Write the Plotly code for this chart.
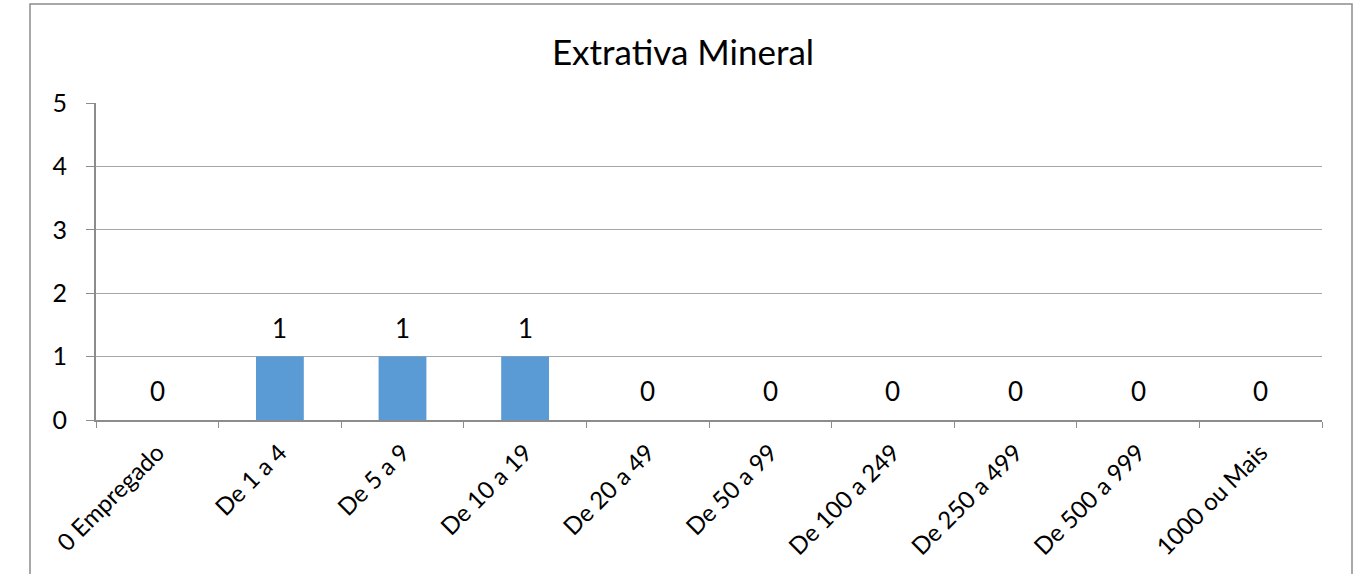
import plotly.graph_objects as go

categories = ["0 Empregado", "De 1 a 4", "De 5 a 9", "De 10 a 19", "De 20 a 49",
              "De 50 a 99", "De 100 a 249", "De 250 a 499", "De 500 a 999", "1000 ou Mais"]
values = [0, 1, 1, 1, 0, 0, 0, 0, 0, 0]
title_text = "Extrativa Mineral"
y_ticks = [0, 1, 2, 3, 4, 5]

W, H = 1364, 574
L, T = 96, 103
R = W - 1322
B = H - 420
pw, ph = W - L - R, H - T - B

fig = go.Figure(go.Bar(
    x=categories, y=values,
    marker=dict(color="#5B9BD5", line=dict(width=0)),
    cliponaxis=False,
    hoverinfo="x+y",
))

for c, v in zip(categories, values):
    fig.add_annotation(x=c, y=v, xref="x", yref="y", text=str(v),
                       showarrow=False, yanchor="bottom", yshift=11,
                       font=dict(family="Lato", size=26, color="#000000"))

frame_color = "#8C8C8C"
fig.add_shape(type="rect", xref="paper", yref="paper",
              x0=(30 - L) / pw, x1=(1352 - L) / pw,
              y0=-1.0, y1=(H - B - 4) / ph,
              line=dict(color=frame_color, width=1.5), fillcolor="rgba(0,0,0,0)",
              layer="below")

fig.update_layout(
    width=W, height=H,
    margin=dict(l=L, r=R, t=T, b=B, autoexpand=False),
    paper_bgcolor="white", plot_bgcolor="white",
    bargap=0.61,
    showlegend=False,
    title=dict(text=title_text, x=683 / W, xref="container", xanchor="center",
               y=1 - 53 / H, yref="container", yanchor="middle",
               font=dict(family="Lato", size=35, color="#000000")),
    xaxis=dict(
        type="category", automargin=False,
        showline=True, linecolor=frame_color, linewidth=2,
        ticks="outside", tickson="boundaries", ticklen=6, tickcolor=frame_color,
        tickangle=-45,
        ticklabelstandoff=7,
        tickfont=dict(family="Lato", size=24, color="#000000"),
        showgrid=False,
    ),
    yaxis=dict(
        range=[0, 5], tickvals=y_ticks, automargin=False,
        showline=True, linecolor=frame_color, linewidth=2,
        ticks="outside", ticklen=8, tickcolor=frame_color,
        ticklabelstandoff=14,
        tickfont=dict(family="Lato", size=25, color="#000000"),
        showgrid=True, gridcolor="#A6A6A6", gridwidth=1.2,
        zeroline=False,
    ),
)

fig.write_html("out.html", config={"displayModeBar": False},
               post_script="document.body.style.margin='0';")
